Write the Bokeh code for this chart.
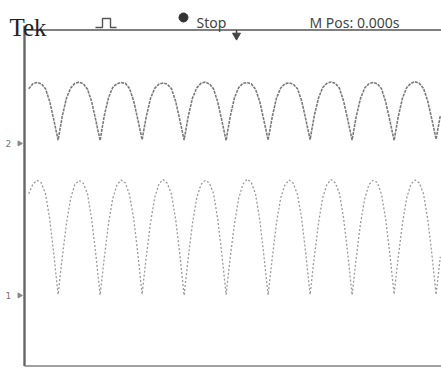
from bokeh.plotting import figure
from bokeh.models import Range1d, Label
from bokeh.embed import file_html
from bokeh.resources import INLINE
import numpy as np

# ---- data (screen divisions; 10 horizontal x 8 vertical, centre = 0) ----
time_div = [round(0.1 * k, 1) for k in range(1, 100)]

ch2_div = [
    2.60, 2.72, 2.75, 2.72, 2.60, 2.30, 1.85,
    1.38, 1.95, 2.38, 2.62, 2.73, 2.76, 2.72, 2.59, 2.29, 1.84,
    1.37, 1.96, 2.39, 2.63, 2.72, 2.75, 2.73, 2.61, 2.31, 1.86,
    1.39, 1.94, 2.37, 2.61, 2.71, 2.74, 2.71, 2.60, 2.30, 1.85,
    1.38, 1.95, 2.38, 2.62, 2.73, 2.76, 2.72, 2.60, 2.29, 1.84,
    1.37, 1.95, 2.39, 2.63, 2.73, 2.75, 2.72, 2.59, 2.30, 1.85,
    1.38, 1.94, 2.38, 2.62, 2.72, 2.74, 2.71, 2.60, 2.31, 1.86,
    1.39, 1.96, 2.38, 2.63, 2.73, 2.76, 2.73, 2.61, 2.30, 1.85,
    1.38, 1.95, 2.37, 2.62, 2.72, 2.75, 2.72, 2.60, 2.29, 1.84,
    1.37, 1.94, 2.38, 2.63, 2.73, 2.77, 2.73, 2.61, 2.31, 1.87,
    1.40, 1.96,
]

ch1_div = [
    0.10, 0.33, 0.42, 0.36, 0.10, -0.50, -1.35,
    -2.30, -1.40, -0.60, 0.00, 0.32, 0.42, 0.35, 0.10, -0.51, -1.36,
    -2.31, -1.42, -0.61, -0.02, 0.31, 0.43, 0.36, 0.08, -0.49, -1.34,
    -2.29, -1.39, -0.59, 0.01, 0.33, 0.44, 0.35, 0.09, -0.52, -1.36,
    -2.32, -1.41, -0.60, 0.00, 0.32, 0.42, 0.36, 0.11, -0.50, -1.35,
    -2.30, -1.40, -0.61, -0.01, 0.33, 0.45, 0.37, 0.10, -0.51, -1.37,
    -2.31, -1.42, -0.59, 0.00, 0.31, 0.43, 0.35, 0.08, -0.49, -1.35,
    -2.30, -1.39, -0.60, 0.01, 0.32, 0.44, 0.36, 0.10, -0.50, -1.36,
    -2.31, -1.41, -0.61, -0.02, 0.32, 0.42, 0.37, 0.09, -0.51, -1.35,
    -2.29, -1.40, -0.60, 0.00, 0.33, 0.43, 0.36, 0.10, -0.50, -1.34,
    -2.30, -1.40,
]

ch2_ground = 1.30
ch1_ground = -2.32
trigger_pos = 5.0

header_left = "Tek"
header_state = "Stop"
header_right = "M Pos: 0.000s"

# ---- figure ----
PX = 42.0
X0 = 24.0
YC = 197.5
W, H = 441, 370


def dx(px):
    return (px - X0) / PX


def dy(py):
    return (YC - py) / PX


p = figure(width=W, height=H, output_backend="svg", toolbar_location=None,
           x_range=Range1d(dx(0), dx(W)), y_range=Range1d(dy(H), dy(0)),
           min_border=0)
p.axis.visible = False
p.grid.visible = False
p.outline_line_color = None
p.background_fill_color = "white"
p.border_fill_color = "white"

# graticule frame
p.line([0, 10], [4, 4], line_color="#555555", line_width=1.6)
p.line([0, 0], [4.1, -4], line_color="#666666", line_width=2.4)
p.line([0, 10], [-4, -4], line_color="#808080", line_width=1.4)

# traces
p.line(time_div, ch2_div, line_color="#7a7a7a", line_width=1.6, line_dash="3 1")
p.line(time_div, ch1_div, line_color="#9a9a9a", line_width=1.3, line_dash="2 2")

# trigger marker
tx = trigger_pos + dx(236) - 5.0
p.scatter([tx], [dy(35)], marker="inverted_triangle", size=8, color="#444444")
p.line([tx, tx], [4, dy(34)], line_color="#444444", line_width=1.5)

# ground markers
for g, lab in ((ch2_ground, "2"), (ch1_ground, "1")):
    p.add_layout(Label(x=dx(5), y=g, text=lab, text_font="DejaVu Sans",
                       text_font_size="9px", text_color="#777777",
                       text_baseline="middle"))
    p.scatter([dx(19)], [g], marker="triangle", angle=-np.pi / 2, size=5,
              color="#888888")

# header
p.add_layout(Label(x=dx(9), y=dy(27), text=header_left, text_font="Liberation Serif",
                   text_font_size="25px", text_color="#222222",
                   text_baseline="alphabetic"))
p.line([dx(95), dx(102), dx(102), dx(110), dx(110), dx(116)],
       [dy(27), dy(27), dy(18), dy(18), dy(27), dy(27)],
       line_color="#555555", line_width=1.4)
p.scatter([dx(183)], [dy(17)], marker="circle", size=9, color="#333333")
p.add_layout(Label(x=dx(196), y=dy(22), text=header_state, text_font="Noto Sans",
                   text_font_size="14px", text_color="#444444",
                   text_baseline="alphabetic"))
p.add_layout(Label(x=dx(309), y=dy(22), text=header_right, text_font="Noto Sans",
                   text_font_size="14px", text_color="#444444",
                   text_baseline="alphabetic"))

open("out.html", "w").write(file_html(p, INLINE))
